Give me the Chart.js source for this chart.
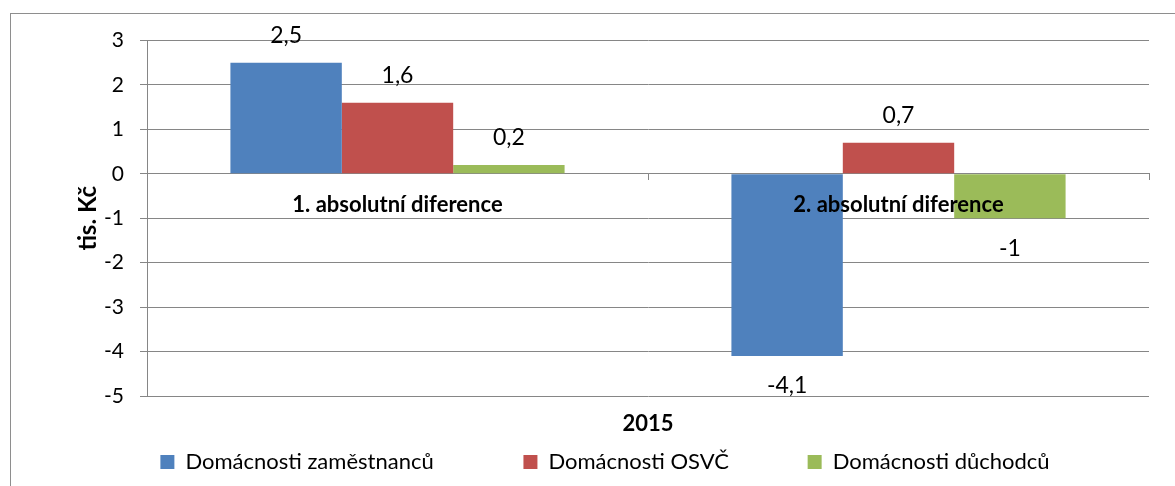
<!DOCTYPE html>
<html>
<head>
<meta charset="utf-8">
<script src="https://cdn.jsdelivr.net/npm/chart.js@4.4.1/dist/chart.umd.min.js"></script>
<style>
  html, body { margin: 0; padding: 0; background: #fff; }
  #box {
    position: absolute; left: 10px; top: 13px;
    width: 1164px; height: 473px;
    border: 1px solid #8e8e8e;
  }
</style>
</head>
<body>
<div id="box"><canvas id="myChart"></canvas></div>
<script>
// data
const categories = ['1. absolutní diference', '2. absolutní diference'];
const seriesNames = ['Domácnosti zaměstnanců', 'Domácnosti OSVČ', 'Domácnosti důchodců'];
const zamestnanci = [2.5, -4.1];
const osvc = [1.6, 0.7];
const duchodci = [0.2, -1];
const yTicks = [-5, -4, -3, -2, -1, 0, 1, 2, 3];

const colors = ['#4F81BD', '#C0504D', '#9BBB59'];
const font = 'Lato, "Open Sans", sans-serif';
// extra space after legend items (Excel spreads them out)
const legendGap = ['\u2002'.repeat(7) + '\u2009', '\u2002'.repeat(6) + '\u2009', ''];

Chart.defaults.font.family = font;
Chart.defaults.font.size = 22;
Chart.defaults.color = '#000';

// value labels above / below the bars, with czech decimal comma
const barLabels = {
    id: 'barLabels',
    afterDatasetsDraw(chart) {
        const ctx = chart.ctx;
        ctx.save();
        ctx.font = '23px ' + font;
        ctx.fillStyle = '#000';
        ctx.textAlign = 'center';
        ctx.textBaseline = 'middle';
        chart.data.datasets.forEach((ds, i) => {
            chart.getDatasetMeta(i).data.forEach((bar, j) => {
                const v = ds.data[j];
                const y = v >= 0 ? bar.y - 27 : bar.y + 30;
                ctx.fillText(String(v).replace('.', ','), bar.x, y);
            });
        });
        ctx.restore();
    }
};

const data = {
    labels: categories,
    datasets: [
        { label: seriesNames[0], data: zamestnanci, backgroundColor: colors[0] },
        { label: seriesNames[1], data: osvc, backgroundColor: colors[1] },
        { label: seriesNames[2], data: duchodci, backgroundColor: colors[2] },
    ]
};

const config = {
    type: 'bar',
    data: data,
    options: {
        responsive: true,
        maintainAspectRatio: false,
        animation: false,
        layout: { padding: { left: 50, right: 26, top: 24, bottom: 4 } },
        datasets: {
            bar: { categoryPercentage: 0.667, barPercentage: 1, borderWidth: 0 }
        },
        scales: {
            x: {
                position: { y: 0 },
                grid: { drawOnChartArea: false, drawTicks: true, tickLength: 6, color: '#868686' },
                border: { color: '#868686' },
                ticks: { z: 1, font: { weight: 'bold' }, padding: 12, maxRotation: 0, autoSkip: false }
            },
            x2: {
                type: 'category',
                labels: categories,
                position: 'bottom',
                grid: { display: false, drawTicks: false },
                border: { display: false },
                ticks: { display: false },
                title: { display: true, text: '2015', font: { weight: 'bold' }, padding: { top: 0, bottom: 4 } },
                afterFit: (axis) => { axis.height = 45; }
            },
            y: {
                min: yTicks[0],
                max: yTicks[yTicks.length - 1],
                afterBuildTicks: (axis) => { axis.ticks = yTicks.map(v => ({ value: v })); },
                grid: { color: '#868686', tickLength: 7 },
                border: { color: '#868686' },
                ticks: { padding: 16, font: { size: 21, lineHeight: 1 } },
                title: { display: true, text: 'tis. Kč', font: { size: 24, weight: 'bold' }, padding: { top: 13, bottom: 0 } },
                afterFit: (axis) => { axis.width = 86; }
            }
        },
        plugins: {
            legend: {
                position: 'bottom',
                labels: {
                    boxWidth: 14,
                    boxHeight: 14,
                    padding: 10,
                    generateLabels: (chart) => Chart.defaults.plugins.legend.labels.generateLabels(chart)
                        .map((item, i) => Object.assign(item, { text: item.text + legendGap[i] }))
                }
            },
            tooltip: { enabled: false }
        }
    },
    plugins: [barLabels]
};

const myChart = new Chart(document.getElementById('myChart'), config);
</script>
</body>
</html>
